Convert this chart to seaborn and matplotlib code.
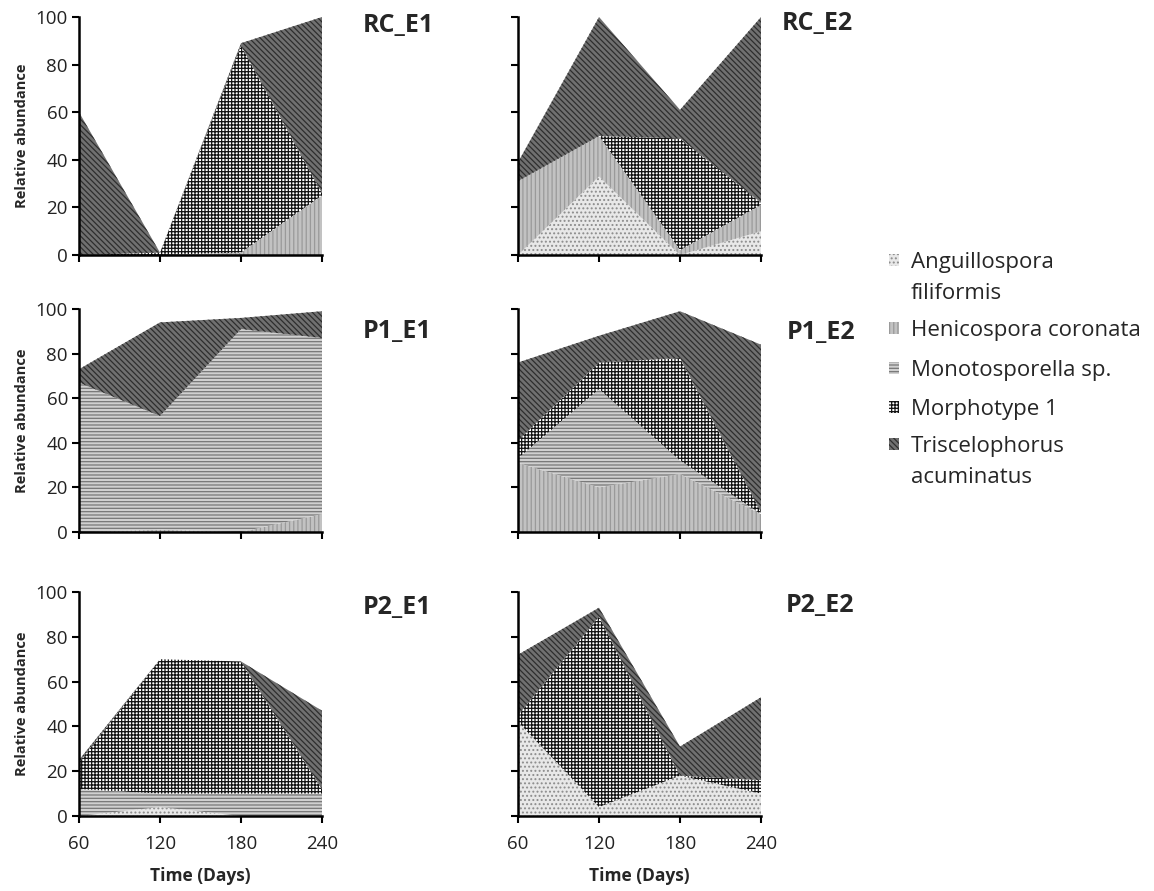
import numpy as np
import matplotlib
matplotlib.use("Agg")
import matplotlib.pyplot as plt
import seaborn as sns
from matplotlib.patches import Rectangle

# =========================
# DATA (relative abundance, %)
# =========================
days = [60, 120, 180, 240]
species = ["Anguillospora\nfiliformis", "Henicospora coronata",
           "Monotosporella sp.", "Morphotype 1", "Triscelophorus\nacuminatus"]

# each panel: one list per species, bottom -> top
rc_e1 = [[0, 0, 0, 0], [0, 0, 1, 25], [0, 0, 0, 0], [0, 1, 87, 1], [60, 0, 1, 74]]
rc_e2 = [[0, 33, 0, 10], [31, 17, 2, 11], [0, 0, 0, 0], [0, 0, 47, 1], [8, 50, 12, 78]]
p1_e1 = [[0, 0, 0, 0], [0, 1, 0, 8], [67, 51, 91, 79], [0, 0, 0, 0], [6, 42, 5, 12]]
p1_e2 = [[0, 0, 0, 0], [31, 20, 26, 8], [2, 44, 6, 0], [8, 12, 46, 1], [35, 12, 21, 75]]
p2_e1 = [[0, 4, 0, 0], [0, 0, 0, 0], [12, 6, 10, 10], [12, 60, 59, 2], [1, 0, 0, 35]]
p2_e2 = [[42, 4, 18, 10], [0, 0, 0, 0], [0, 0, 0, 0], [3, 85, 0, 6], [27, 4, 13, 37]]

panels = ["RC_E1", "RC_E2", "P1_E1", "P1_E2", "P2_E1", "P2_E2"]
panel_data = [rc_e1, rc_e2, p1_e1, p1_e2, p2_e1, p2_e2]

# =========================
# STYLE
# =========================
sns.set_theme(style="ticks")
plt.rcParams["font.family"] = ["Open Sans", "DejaVu Sans"]
plt.rcParams["hatch.linewidth"] = 0.9

# facecolor, hatch colour, hatch
fills = [
    ("#e8e8e8", "#8c8c8c", "...."),
    ("#c2c2c2", "#9a9a9a", "||||"),
    ("#d0d0d0", "#777777", "-----"),
    ("#ffffff", "#111111", "+++++"),
    ("#707070", "#2e2e2e", "\\\\\\\\\\\\"),
]

fig = plt.figure(figsize=(11.54, 8.91), dpi=100)

W = 1154
H = 891
lefts = [79, 518]
rows = [(17, 255), (309, 532), (592, 816)]
title_pos = [(363, 25), (782, 23), (363, 331), (787, 332), (363, 607), (786, 606)]

for i, (name, data) in enumerate(zip(panels, panel_data)):
    r, c = divmod(i, 2)
    top, bot = rows[r]
    x0 = lefts[c]
    ax = fig.add_axes([x0 / W, 1 - bot / H, 243 / W, (bot - top) / H])

    base = np.zeros(len(days))
    for vals, (fc, hc, hatch) in zip(data, fills):
        upper = base + np.array(vals, dtype=float)
        ax.fill_between(days, base, upper, facecolor=fc, edgecolor=hc,
                        hatch=hatch, linewidth=0)
        base = upper

    ax.set_xlim(60, 240)
    ax.set_ylim(0, 100)
    ax.set_xticks(days)
    ax.set_yticks([0, 20, 40, 60, 80, 100])
    sns.despine(ax=ax)
    for s in ["left", "bottom"]:
        ax.spines[s].set_linewidth(1.8)
        ax.spines[s].set_color("black")
    ax.tick_params(length=5, width=1.5, colors="black", labelsize=13.5)
    ax.tick_params(axis="x", pad=9)
    ax.tick_params(axis="y", pad=3)
    for lbl in ax.get_xticklabels() + ax.get_yticklabels():
        lbl.set_color("#222222")

    if c == 0:
        ax.set_ylabel("Relative abundance", fontsize=10.5, fontweight="bold", labelpad=5)
    else:
        ax.set_yticklabels([])
    if r == 2:
        ax.set_xlabel("Time (Days)", fontsize=12.5, fontweight="bold", labelpad=10)
    else:
        ax.set_xticklabels([])

    tx, ty = title_pos[i]
    fig.text(tx / W, 1 - ty / H, name, fontsize=18, fontweight="bold",
             ha="left", va="center")

# legend: small swatch beside the first line of each label
leg_y = [260, 328, 368, 407, 444]
for (fc, hc, h), label, y in zip(fills, species, leg_y):
    fig.patches.append(Rectangle((889 / W, 1 - (y + 6) / H), 10 / W, 12 / H,
                                 transform=fig.transFigure, facecolor=fc,
                                 edgecolor=hc, hatch=h, linewidth=0))
    fig.text(911 / W, 1 - (y - 8) / H, label, fontsize=16, ha="left", va="top",
             linespacing=1.62, color="#262626")

plt.savefig("out.png", dpi=100)
plt.close()
